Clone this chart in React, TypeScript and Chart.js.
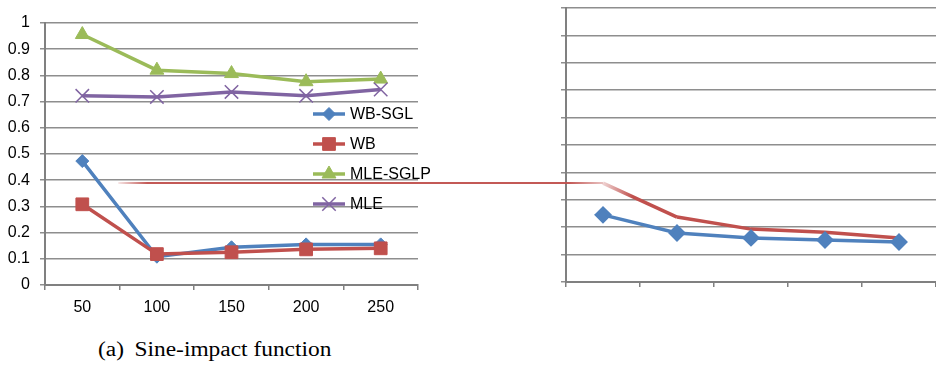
import React, { useEffect, useRef } from "react";
import { Chart, registerables } from "chart.js";
import { drawPoint } from "chart.js/helpers";

Chart.register(...registerables);

// ---------- data ----------
const categories = ["50", "100", "150", "200", "250"];
const seriesNames = ["WB-SGL", "WB", "MLE-SGLP", "MLE"];
const wbSgl = [0.473, 0.108, 0.144, 0.155, 0.155];
const wb = [0.308, 0.118, 0.125, 0.136, 0.14];
const mleSglp = [0.956, 0.82, 0.807, 0.776, 0.786];
const mle = [0.722, 0.718, 0.737, 0.722, 0.746];
const yTickLabels = ["0", "0.1", "0.2", "0.3", "0.4", "0.5", "0.6", "0.7", "0.8", "0.9", "1"];

// second (cropped) panel
const rightX = [0.5, 1.5, 2.5, 3.5, 4.5];
const rightBlue = [0.245, 0.179, 0.161, 0.153, 0.146];
const rightRed = [0.361, 0.237, 0.193, 0.182, 0.161];
const connectorStartX = -6.05;

const captionLabel = "(a)";
const captionText = "Sine-impact function";

// ---------- styles ----------
const FONT = '"Liberation Sans Narrow", "Liberation Sans", Arial, sans-serif';
const BLUE = "#4F81BD";
const RED = "#C0504D";
const GREEN = "#9BBB59";
const PURPLE = "#8064A2";
const GRID = "#8E8E8E";
const AXIS = "#808080";

const styles = [
  { color: BLUE, pointStyle: "rectRot", radius: 6.5, pbw: 1 },
  { color: RED, pointStyle: "rect", radius: 9, pbw: 1 },
  { color: GREEN, pointStyle: "triangle", radius: 8, pbw: 1 },
  { color: PURPLE, pointStyle: "crossRot", radius: 9.5, pbw: 1.5 },
];

const legendPlugin = {
  id: "insideLegend",
  afterDraw(chart: any) {
    const ctx = chart.ctx;
    const x0 = 313;
    const x1 = 345;
    ctx.save();
    chart.data.datasets.forEach((ds: any, i: number) => {
      const y = 114 + i * 30;
      ctx.strokeStyle = ds.borderColor;
      ctx.lineWidth = 3.5;
      ctx.beginPath();
      ctx.moveTo(x0, y);
      ctx.lineTo(x1, y);
      ctx.stroke();
      ctx.fillStyle = ds.pointBackgroundColor;
      ctx.strokeStyle = ds.pointBorderColor;
      ctx.lineWidth = ds.pointBorderWidth;
      drawPoint(ctx, { pointStyle: ds.pointStyle, radius: ds.pointRadius, rotation: 0, borderWidth: ds.pointBorderWidth }, (x0 + x1) / 2, y);
      ctx.fillStyle = "#000";
      ctx.font = `16px ${FONT}`;
      ctx.textBaseline = "middle";
      ctx.textAlign = "left";
      ctx.fillText(ds.label, 350, y + 1);
    });
    ctx.restore();
  },
};

function makeLeftConfig(): any {
  const values = [wbSgl, wb, mleSglp, mle];
  return {
    type: "line",
    data: {
      labels: categories,
      datasets: values.map((v, i) => ({
        label: seriesNames[i],
        data: v,
        borderColor: styles[i].color,
        backgroundColor: styles[i].color,
        pointBackgroundColor: styles[i].color,
        pointBorderColor: styles[i].color,
        pointStyle: styles[i].pointStyle,
        pointRadius: styles[i].radius,
        pointBorderWidth: styles[i].pbw,
        borderWidth: 3.5,
        tension: 0,
        fill: false,
        order: 3 - i,
      })),
    },
    options: {
      responsive: false,
      animation: false,
      layout: { autoPadding: false, padding: { left: 0, top: 23, right: 22, bottom: 0 } },
      plugins: { legend: { display: false }, tooltip: { enabled: false } },
      scales: {
        x: {
          type: "category",
          offset: true,
          grid: { offset: true, drawOnChartArea: false, drawTicks: true, tickLength: 5, color: AXIS, lineWidth: 1.5 },
          border: { color: AXIS, width: 2 },
          ticks: { font: { family: FONT, size: 16 }, color: "#000", padding: 8, maxRotation: 0 },
          afterFit: (a: any) => {
            a.height = 35;
          },
        },
        y: {
          min: 0,
          max: 1,
          ticks: {
            stepSize: 0.1,
            font: { family: FONT, size: 16 },
            color: "#000",
            padding: 10,
            callback: (_v: any, idx: number) => yTickLabels[idx],
          },
          grid: { color: GRID, lineWidth: 1.5, tickLength: 5 },
          border: { color: AXIS, width: 2 },
          afterFit: (a: any) => {
            a.width = 45;
          },
        },
      },
    },
    plugins: [legendPlugin],
  };
}

function makeRightConfig(): any {
  const redPts = [{ x: connectorStartX, y: rightRed[0] }].concat(
    rightX.map((x, i) => ({ x, y: rightRed[i] }))
  );
  const bluePts = rightX.map((x, i) => ({ x, y: rightBlue[i] }));
  return {
    type: "line",
    data: {
      datasets: [
        {
          label: "WB-SGL",
          data: bluePts,
          borderColor: BLUE,
          backgroundColor: BLUE,
          pointBackgroundColor: BLUE,
          pointBorderColor: BLUE,
          pointStyle: "rectRot",
          pointRadius: 6.5,
          borderWidth: 3.5,
          order: 0,
        },
        {
          label: "WB",
          data: redPts,
          borderColor: RED,
          backgroundColor: RED,
          pointRadius: 0,
          borderWidth: 3.5,
          clip: false,
          order: 1,
          segment: {
            borderWidth: (c: any) => (c.p0DataIndex === 0 ? 2 : undefined),
            borderColor: (c: any) => {
              if (c.p0DataIndex > 1) return undefined;
              const g = c.chart.ctx.createLinearGradient(c.p0.x, 0, c.p1.x, 0);
              if (c.p0DataIndex === 0) {
                g.addColorStop(0, "rgba(192,80,77,0.15)");
                g.addColorStop(0.06, "rgba(192,80,77,0.95)");
                g.addColorStop(0.93, "rgba(192,80,77,0.95)");
                g.addColorStop(1, "rgba(192,80,77,0.35)");
              } else {
                g.addColorStop(0, "rgba(192,80,77,0.25)");
                g.addColorStop(0.4, "rgba(192,80,77,1)");
                g.addColorStop(1, "rgba(192,80,77,1)");
              }
              return g;
            },
          },
        },
      ],
    },
    options: {
      responsive: false,
      animation: false,
      layout: { autoPadding: false, padding: { left: 0, top: 8, right: 0, bottom: 0 } },
      plugins: { legend: { display: false }, tooltip: { enabled: false } },
      scales: {
        x: {
          type: "linear",
          min: 0,
          max: 5,
          ticks: { stepSize: 1, display: false },
          grid: { drawOnChartArea: false, drawTicks: true, tickLength: 5, color: AXIS, lineWidth: 1.5 },
          border: { color: AXIS, width: 2 },
          afterFit: (a: any) => {
            a.height = 18;
          },
        },
        y: {
          min: 0,
          max: 1,
          ticks: { stepSize: 0.1, display: false },
          grid: { color: GRID, lineWidth: 1.5, tickLength: 5 },
          border: { color: AXIS, width: 2 },
          afterFit: (a: any) => {
            a.width = 456;
          },
        },
      },
    },
  };
}

export default function App() {
  const leftRef = useRef<HTMLCanvasElement | null>(null);
  const rightRef = useRef<HTMLCanvasElement | null>(null);

  useEffect(() => {
    const left = new Chart(leftRef.current as HTMLCanvasElement, makeLeftConfig());
    const right = new Chart(rightRef.current as HTMLCanvasElement, makeRightConfig());
    return () => {
      left.destroy();
      right.destroy();
    };
  }, []);

  return (
    <div style={{ position: "fixed", left: 0, top: 0, width: 936, height: 365, background: "#fff", overflow: "hidden" }}>
      <canvas ref={leftRef} width={440} height={320} style={{ position: "absolute", left: 0, top: 0, width: 440, height: 320 }} />
      <canvas ref={rightRef} width={826} height={300} style={{ position: "absolute", left: 110, top: 0, width: 826, height: 300 }} />
      <div
        style={{
          position: "absolute",
          left: 98,
          top: 338,
          fontFamily: '"Liberation Serif", "Times New Roman", serif',
          fontSize: 20,
          lineHeight: "23px",
          color: "#000",
          whiteSpace: "nowrap",
          transform: "scaleX(1.17)",
          transformOrigin: "left top",
        }}
      >
        <span>{captionLabel}</span>
        <span style={{ marginLeft: 9 }}>{captionText}</span>
      </div>
    </div>
  );
}
